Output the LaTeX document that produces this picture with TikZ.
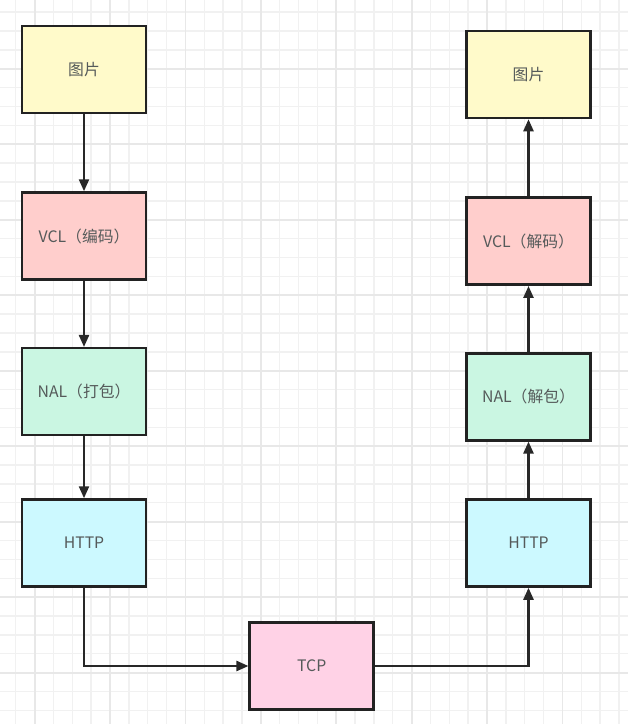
\documentclass[tikz,border=0pt]{standalone}
\usepackage{fontspec}
\setmainfont{Noto Sans CJK SC}
\usetikzlibrary{arrows.meta}
\definecolor{gridminor}{RGB}{241,241,241}
\definecolor{gridmajor}{RGB}{232,232,232}
\definecolor{boxline}{RGB}{34,34,34}
\definecolor{wire}{RGB}{40,40,40}
\definecolor{labeltext}{RGB}{85,90,90}
\definecolor{fillimg}{RGB}{255,250,202}
\definecolor{fillvcl}{RGB}{255,206,204}
\definecolor{fillnal}{RGB}{202,246,226}
\definecolor{fillhttp}{RGB}{204,249,255}
\definecolor{filltcp}{RGB}{255,210,230}
\tikzset{
  layerbox/.style={draw=boxline, line width=2.5pt, minimum width=124pt, minimum height=87pt,
    inner sep=0pt, text=labeltext, font=\fontsize{15.8pt}{19pt}\selectfont},
  flow/.style={draw=wire, line width=2.3pt, -{Triangle[length=12pt,width=10pt]}},
  gminor/.style={draw=gridminor, line width=1.4pt},
  gmajor/.style={draw=gridmajor, line width=1.8pt},
}
\begin{document}
\begin{tikzpicture}[x=1pt,y=-1pt]
  % page and grid
  \fill[white] (0,0) rectangle (628,724);
  \useasboundingbox (0,0) rectangle (628,724);
  \foreach \i in {0,...,34} {
    \draw[gminor] ({-3.1+18.85*\i},0) -- ({-3.1+18.85*\i},724);
  }
  \foreach \i in {0,...,39} {
    \draw[gminor] (0,{-6.7+18.87*\i}) -- (628,{-6.7+18.87*\i});
  }
  \foreach \i in {0,...,8} {
    \draw[gmajor] ({34.6+75.4*\i},0) -- ({34.6+75.4*\i},724);
  }
  \foreach \i in {1,...,10} {
    \draw[gmajor] (0,{-6.7+75.5*\i}) -- (628,{-6.7+75.5*\i});
  }

  % sender column
  \node[layerbox, fill=fillimg]  (imgL)  at (84,69.6)  {图片};
  \node[layerbox, fill=fillvcl]  (vclL)  at (84,236)   {VCL（编码）};
  \node[layerbox, fill=fillnal]  (nalL)  at (84,391.7) {NAL（打包）};
  \node[layerbox, fill=fillhttp] (httpL) at (84,543)   {HTTP};

  % transport
  \node[layerbox, fill=filltcp]  (tcp)   at (311.7,666) {TCP};

  % receiver column
  \node[layerbox, fill=fillhttp] (httpR) at (528.5,543)   {HTTP};
  \node[layerbox, fill=fillnal]  (nalR)  at (528.5,396.8) {NAL（解包）};
  \node[layerbox, fill=fillvcl]  (vclR)  at (528.5,241.2) {VCL（解码）};
  \node[layerbox, fill=fillimg]  (imgR)  at (528.5,74.5)  {图片};

  % connectors
  \draw[flow] (imgL) -- (vclL);
  \draw[flow] (vclL) -- (nalL);
  \draw[flow] (nalL) -- (httpL);
  \draw[flow] (httpL.south) |- (tcp.west);
  \draw[flow] (tcp.east) -| (httpR.south);
  \draw[flow] (httpR) -- (nalR);
  \draw[flow] (nalR) -- (vclR);
  \draw[flow] (vclR) -- (imgR);
\end{tikzpicture}
\end{document}
